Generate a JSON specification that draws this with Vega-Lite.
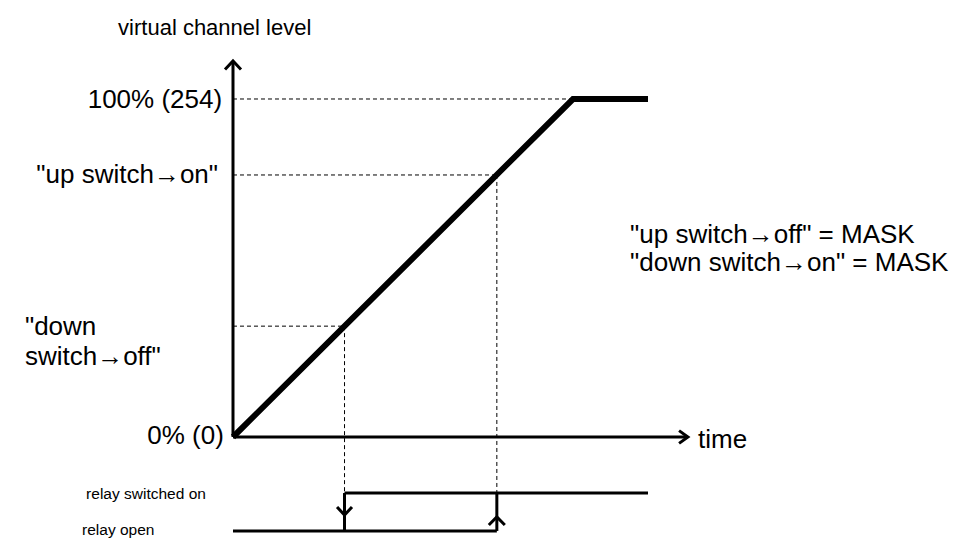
{
  "$schema": "https://vega.github.io/schema/vega-lite/v6.json",
  "width": 960,
  "height": 538,
  "padding": 0,
  "autosize": "none",
  "background": "white",
  "config": {"view": {"stroke": null}, "text": {"font": "Liberation Sans", "color": "black"}},
  "datasets": {
    "lines": [
      {"seg": "ramp", "w": "thick", "o": 1, "t": 0, "L": 0},
      {"seg": "ramp", "w": "thick", "o": 2, "t": 100, "L": 254},
      {"seg": "ramp", "w": "thick", "o": 3, "t": 122.06, "L": 254},
      {"seg": "yaxis", "w": "solid", "o": 1, "t": 0, "L": 0},
      {"seg": "yaxis", "w": "solid", "o": 2, "t": 0, "L": 282.6},
      {"seg": "yarrow", "w": "solid", "o": 1, "t": -2.35, "L": 276.2},
      {"seg": "yarrow", "w": "solid", "o": 2, "t": 0, "L": 282.6},
      {"seg": "yarrow", "w": "solid", "o": 3, "t": 2.35, "L": 276.2},
      {"seg": "xaxis", "w": "solid", "o": 1, "t": 0, "L": 0},
      {"seg": "xaxis", "w": "solid", "o": 2, "t": 133.8, "L": 0},
      {"seg": "xarrow", "w": "solid", "o": 1, "t": 131.2, "L": 4.8},
      {"seg": "xarrow", "w": "solid", "o": 2, "t": 133.8, "L": 0},
      {"seg": "xarrow", "w": "solid", "o": 3, "t": 131.2, "L": -4.8},
      {"seg": "relaylow", "w": "solid", "o": 1, "t": 0, "L": -70.6},
      {"seg": "relaylow", "w": "solid", "o": 2, "t": 77.6, "L": -70.6},
      {"seg": "relayhigh", "w": "solid", "o": 1, "t": 32.8, "L": -42.1},
      {"seg": "relayhigh", "w": "solid", "o": 2, "t": 122.06, "L": -42.1},
      {"seg": "relayv1", "w": "solid", "o": 1, "t": 32.8, "L": -42.1},
      {"seg": "relayv1", "w": "solid", "o": 2, "t": 32.8, "L": -70.6},
      {"seg": "relayv2", "w": "solid", "o": 1, "t": 77.6, "L": -42.1},
      {"seg": "relayv2", "w": "solid", "o": 2, "t": 77.6, "L": -70.6},
      {"seg": "downarrow", "w": "solid", "o": 1, "t": 30.6, "L": -52.6},
      {"seg": "downarrow", "w": "solid", "o": 2, "t": 32.8, "L": -58.6},
      {"seg": "downarrow", "w": "solid", "o": 3, "t": 35.0, "L": -52.6},
      {"seg": "uparrow", "w": "solid", "o": 1, "t": 75.25, "L": -66.1},
      {"seg": "uparrow", "w": "solid", "o": 2, "t": 77.6, "L": -60.1},
      {"seg": "uparrow", "w": "solid", "o": 3, "t": 79.95, "L": -66.1},
      {"seg": "d254", "w": "dashed", "o": 1, "t": 0, "L": 254},
      {"seg": "d254", "w": "dashed", "o": 2, "t": 100, "L": 254},
      {"seg": "d197", "w": "dashed", "o": 1, "t": 0, "L": 196.9},
      {"seg": "d197", "w": "dashed", "o": 2, "t": 77.6, "L": 196.9},
      {"seg": "d83", "w": "dashed", "o": 1, "t": 0, "L": 83.3},
      {"seg": "d83", "w": "dashed", "o": 2, "t": 32.8, "L": 83.3},
      {"seg": "dv1", "w": "dashed", "o": 1, "t": 32.8, "L": 83.3},
      {"seg": "dv1", "w": "dashed", "o": 2, "t": 32.8, "L": -42.1},
      {"seg": "dv2", "w": "dashed", "o": 1, "t": 77.6, "L": 196.9},
      {"seg": "dv2", "w": "dashed", "o": 2, "t": 77.6, "L": -42.1}
    ],
    "rightLabels": [
      {"label": "100% (254)", "t": -3.2, "L": 253},
      {"label": "\"up switch→on\"", "t": -4.4, "L": 196.9},
      {"label": "0% (0)", "t": -2.7, "L": 0.5}
    ],
    "bigLeftLabels": [
      {"label": "\"down", "t": -61.2, "L": 82.7},
      {"label": "switch→off\"", "t": -61.2, "L": 60.1},
      {"label": "time", "t": 136.8, "L": -2.2},
      {"label": "\"up switch→off\" = MASK", "t": 116.8, "L": 151.8},
      {"label": "\"down switch→on\" = MASK", "t": 116.8, "L": 130.4}
    ],
    "titleLabel": [
      {"label": "virtual channel level", "t": -33.8, "L": 307.4}
    ],
    "relayLabels": [
      {"label": "relay switched on", "t": -43.2, "L": -42.8},
      {"label": "relay open", "t": -44.4, "L": -69.6}
    ]
  },
  "encoding": {
    "x": {"field": "t", "type": "quantitative", "scale": {"domain": [-68.529, 213.824], "nice": false, "zero": false}, "axis": null},
    "y": {"field": "L", "type": "quantitative", "scale": {"domain": [-75.899, 328.395], "nice": false, "zero": false}, "axis": null}
  },
  "layer": [
    {
      "data": {"name": "lines"},
      "transform": [{"filter": "datum.w === 'dashed'"}],
      "mark": {"type": "line", "color": "black", "strokeWidth": 1, "strokeDash": [4, 3]},
      "encoding": {"detail": {"field": "seg"}, "order": {"field": "o"}}
    },
    {
      "data": {"name": "lines"},
      "transform": [{"filter": "datum.w === 'solid'"}],
      "mark": {"type": "line", "color": "black", "strokeWidth": 3},
      "encoding": {"detail": {"field": "seg"}, "order": {"field": "o"}}
    },
    {
      "data": {"name": "lines"},
      "transform": [{"filter": "datum.w === 'thick'"}],
      "mark": {"type": "line", "color": "black", "strokeWidth": 6},
      "encoding": {"detail": {"field": "seg"}, "order": {"field": "o"}}
    },
    {
      "data": {"name": "rightLabels"},
      "mark": {"type": "text", "align": "right", "baseline": "middle", "fontSize": 26},
      "encoding": {"text": {"field": "label"}}
    },
    {
      "data": {"name": "bigLeftLabels"},
      "mark": {"type": "text", "align": "left", "baseline": "middle", "fontSize": 26},
      "encoding": {"text": {"field": "label"}}
    },
    {
      "data": {"name": "titleLabel"},
      "mark": {"type": "text", "align": "left", "baseline": "middle", "fontSize": 22},
      "encoding": {"text": {"field": "label"}}
    },
    {
      "data": {"name": "relayLabels"},
      "mark": {"type": "text", "align": "left", "baseline": "middle", "fontSize": 15.5},
      "encoding": {"text": {"field": "label"}}
    }
  ]
}
